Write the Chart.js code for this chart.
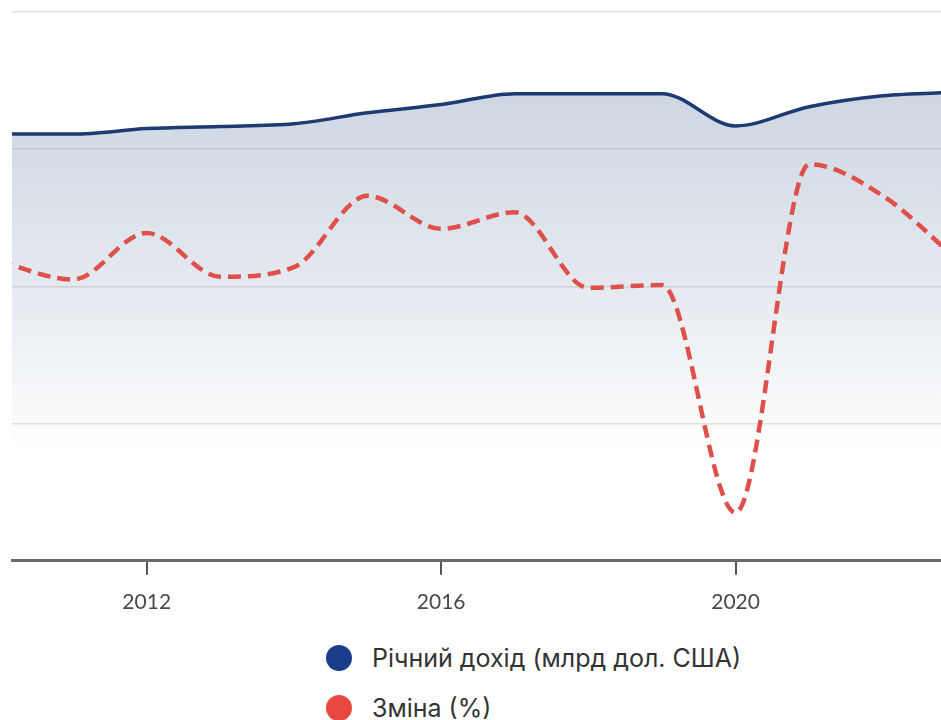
<!DOCTYPE html>
<html>
<head>
<meta charset="utf-8">
<script src="https://cdn.jsdelivr.net/npm/chart.js@4/dist/chart.umd.min.js"></script>
<style>
  html, body { margin: 0; padding: 0; background: #ffffff; }
  body { width: 941px; height: 720px; position: relative; overflow: hidden; font-family: "Inter", "Liberation Sans", sans-serif; }
  #wrap { position: absolute; left: 0; top: 0; width: 941px; height: 630px; }
  #legend { position: absolute; left: 326px; top: 633px; }
  .item { display: flex; align-items: center; height: 50px; }
  .dot { width: 26px; height: 26px; border-radius: 50%; margin-right: 20px; }
  .lbl { font-size: 25px; color: #333; font-family: "Inter", "Liberation Sans", sans-serif; }
</style>
</head>
<body>
<div id="wrap"><canvas id="c"></canvas></div>
<div id="legend"></div>
<script>
// Data
const years   = [2010, 2011, 2012, 2013, 2014, 2015, 2016, 2017, 2018, 2019, 2020, 2021, 2022, 2023];
const revenue = [311, 311, 315, 316.5, 318.5, 326.5, 332.5, 340.5, 340.5, 340.5, 317, 331, 339, 341.5];
const change  = [1.8, 0.5, 3.9, 0.7, 1.4, 6.6, 4.2, 5.4, -0.1, 0.1, -16.5, 8.9, 6.6, 2.0];
const tickYears = [2012, 2016, 2020];
const seriesNames = ["Річний дохід (млрд дол. США)", "Зміна (%)"];
const lineColors = ["#1d3a72", "#e0504b"];
const legendColors = ["#1c3c8e", "#e8483f"];

const revPts = years.map((y, i) => ({ x: y, y: revenue[i] }));
const chgPts = years.map((y, i) => ({ x: y, y: change[i] }));

function fillGrad(ctx) {
  const ca = ctx.chart.chartArea;
  if (!ca) return 'rgba(40,80,130,0.2)';
  const g = ctx.chart.ctx.createLinearGradient(0, ca.top, 0, ca.bottom);
  g.addColorStop(0, 'rgba(40,80,130,0.28)');
  g.addColorStop(0.5, 'rgba(40,80,130,0.12)');
  g.addColorStop(0.8, 'rgba(40,80,130,0.0)');
  g.addColorStop(1, 'rgba(40,80,130,0.0)');
  return g;
}

new Chart(document.getElementById('c'), {
  type: 'line',
  data: {
    datasets: [
      {
        label: seriesNames[1],
        data: chgPts,
        yAxisID: 'y1',
        borderColor: lineColors[1],
        borderWidth: 4.5,
        borderDash: [13, 7],
        cubicInterpolationMode: 'monotone',
        pointRadius: 0,
        fill: false,
        clip: 0,
        order: 0
      },
      {
        label: seriesNames[0],
        data: revPts,
        yAxisID: 'y',
        borderColor: lineColors[0],
        borderWidth: 3.5,
        cubicInterpolationMode: 'monotone',
        pointRadius: 0,
        fill: 'origin',
        backgroundColor: fillGrad,
        clip: 0,
        order: 1
      }
    ]
  },
  options: {
    responsive: true,
    maintainAspectRatio: false,
    animation: false,
    layout: { padding: { left: 12, top: 12, right: 0, bottom: 0 } },
    plugins: { legend: { display: false }, tooltip: { enabled: false } },
    scales: {
      x: {
        type: 'linear',
        min: 2010.17,
        max: 2022.79,
        afterBuildTicks: (s) => { s.ticks = tickYears.map(v => ({ value: v })); },
        ticks: {
          callback: (v) => String(v),
          font: { family: 'Lato', size: 21 },
          color: '#4a4a4a',
          padding: 15,
          maxRotation: 0
        },
        grid: { display: true, drawOnChartArea: false, drawTicks: true, tickLength: 14, color: '#555', lineWidth: 2 },
        border: { display: true, color: '#6b6b6b', width: 3 }
      },
      y: {
        min: 0, max: 400,
        ticks: { display: false, stepSize: 100 },
        grid: { color: '#e2e2e2', lineWidth: 1.5, drawTicks: false },
        border: { display: false }
      },
      y1: {
        display: false,
        position: 'right',
        min: -20, max: 20
      }
    }
  }
});

const lg = document.getElementById('legend');
seriesNames.forEach((n, i) => {
  const it = document.createElement('div');
  it.className = 'item';
  const d = document.createElement('span');
  d.className = 'dot';
  d.style.background = legendColors[i];
  const t = document.createElement('span');
  t.className = 'lbl';
  t.textContent = n;
  it.appendChild(d); it.appendChild(t);
  lg.appendChild(it);
});
</script>
</body>
</html>
